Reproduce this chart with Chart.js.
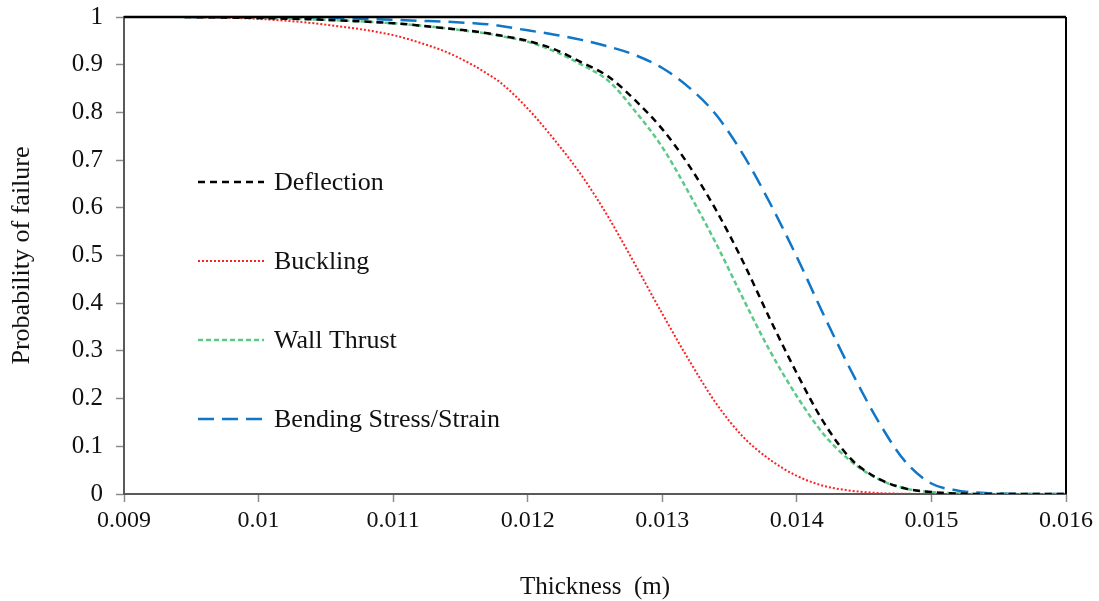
<!DOCTYPE html>
<html>
<head>
<meta charset="utf-8">
<script src="https://cdn.jsdelivr.net/npm/chart.js@4.4.1/dist/chart.umd.min.js"></script>
<style>
  body { margin: 0; background: #fff; }
  #wrap { width: 1099px; height: 601px; }
</style>
</head>
<body>
<div id="wrap"><canvas id="myChart"></canvas></div>
<script>
// thickness grid (m), shared by all curves
const thickness = [0.00945, 0.0100, 0.0105, 0.0110, 0.0112, 0.0114, 0.0116, 0.0117, 0.0118, 0.0120,
  0.0122, 0.0124, 0.0126, 0.0128, 0.0130, 0.0132, 0.0134, 0.0136, 0.0138, 0.0140,
  0.0142, 0.0144, 0.0146, 0.0148, 0.0150, 0.0152, 0.0154, 0.0156, 0.0160];

const deflection = [1.0, 0.998, 0.994, 0.987, 0.982, 0.976, 0.97, 0.966, 0.961, 0.95,
  0.932, 0.905, 0.875, 0.825, 0.765, 0.688, 0.595, 0.487, 0.367, 0.253,
  0.15, 0.074, 0.033, 0.012, 0.004, 0.001, 0, 0, 0];
const buckling = [1.0, 0.996, 0.984, 0.962, 0.946, 0.926, 0.898, 0.881, 0.862, 0.808,
  0.742, 0.668, 0.58, 0.48, 0.378, 0.28, 0.19, 0.12, 0.072, 0.038,
  0.017, 0.007, 0.002, 0.0005, 0, 0, 0, 0, 0];
const wallThrust = [1.0, 0.998, 0.994, 0.987, 0.982, 0.976, 0.969, 0.965, 0.96, 0.948,
  0.928, 0.9, 0.866, 0.802, 0.727, 0.63, 0.525, 0.41, 0.30, 0.205,
  0.125, 0.069, 0.032, 0.012, 0.004, 0.001, 0, 0, 0];
const bending = [1.0, 0.999, 0.998, 0.994, 0.992, 0.99, 0.987, 0.985, 0.981, 0.972,
  0.963, 0.952, 0.938, 0.92, 0.893, 0.852, 0.795, 0.712, 0.61, 0.497,
  0.375, 0.26, 0.155, 0.07, 0.022, 0.007, 0.002, 0.0005, 0];

const seriesNames = ["Deflection", "Buckling", "Wall Thrust", "Bending Stress/Strain"];
const xTickValues = [0.009, 0.010, 0.011, 0.012, 0.013, 0.014, 0.015, 0.016];
const yTickValues = [0, 0.1, 0.2, 0.3, 0.4, 0.5, 0.6, 0.7, 0.8, 0.9, 1];

const toPoints = (ys) => thickness.map((x, i) => ({ x: x, y: ys[i] }));
const serif = "'Liberation Serif', 'Times New Roman', serif";

// legend drawn inside the plot area, like the original
const insideLegend = {
  id: "insideLegend",
  afterDraw(chart) {
    const { ctx, chartArea } = chart;
    ctx.save();
    chart.data.datasets.forEach((ds, i) => {
      const y = chartArea.top + 165 + i * 79;
      const x0 = chartArea.left + 74;
      ctx.beginPath();
      ctx.strokeStyle = ds.borderColor;
      ctx.lineWidth = ds.borderWidth;
      ctx.setLineDash(ds.borderDash || []);
      ctx.moveTo(x0, y);
      ctx.lineTo(x0 + 66, y);
      ctx.stroke();
      ctx.setLineDash([]);
      ctx.fillStyle = "#111";
      ctx.font = "26px " + serif;
      ctx.textBaseline = "middle";
      ctx.fillText(ds.label, chartArea.left + 150, y + 1);
    });
    ctx.restore();
  }
};

// black top and right border of the plot area
const plotBorder = {
  id: "plotBorder",
  afterDatasetsDraw(chart) {
    const { ctx, chartArea } = chart;
    ctx.save();
    ctx.strokeStyle = "#000";
    ctx.lineWidth = 2.5;
    ctx.beginPath();
    ctx.moveTo(chartArea.left, chartArea.top);
    ctx.lineTo(chartArea.right, chartArea.top);
    ctx.stroke();
    ctx.lineWidth = 2;
    ctx.beginPath();
    ctx.moveTo(chartArea.right, chartArea.top);
    ctx.lineTo(chartArea.right, chartArea.bottom);
    ctx.stroke();
    ctx.restore();
  }
};

new Chart(document.getElementById("myChart"), {
  type: "line",
  data: {
    datasets: [
      { label: seriesNames[0], data: toPoints(deflection), borderColor: "#000000", borderWidth: 2.5, borderDash: [7, 5] },
      { label: seriesNames[1], data: toPoints(buckling), borderColor: "#ff2020", borderWidth: 2, borderDash: [2, 2] },
      { label: seriesNames[2], data: toPoints(wallThrust), borderColor: "#5cc987", borderWidth: 2.5, borderDash: [5, 3] },
      { label: seriesNames[3], data: toPoints(bending), borderColor: "#0f76c8", borderWidth: 2.5, borderDash: [16, 8] },
    ],
  },
  options: {
    responsive: true,
    maintainAspectRatio: false,
    animation: false,
    layout: { padding: { top: 17, right: 33, left: 0, bottom: 0 } },
    elements: {
      point: { radius: 0 },
      line: { cubicInterpolationMode: "monotone", fill: false },
    },
    plugins: {
      legend: { display: false },
      tooltip: { enabled: false },
    },
    scales: {
      x: {
        type: "linear",
        min: 0.009,
        max: 0.016,
        afterBuildTicks: (scale) => { scale.ticks = xTickValues.map(v => ({ value: v })); },
        afterFit: (scale) => { scale.height = 107; },
        grid: { drawOnChartArea: false, tickLength: 8, color: "#8c8c8c", tickWidth: 1.5 },
        border: { color: "#595959", width: 2 },
        ticks: {
          color: "#111",
          font: { family: serif, size: 24 },
          padding: 4,
          maxRotation: 0,
          callback: (v) => String(+Number(v).toFixed(3)),
        },
        title: {
          display: true,
          text: "Thickness  (m)",
          color: "#111",
          font: { family: serif, size: 25, lineHeight: 1 },
          padding: { top: 0, bottom: 1 },
        },
      },
      y: {
        min: 0,
        max: 1,
        afterBuildTicks: (scale) => { scale.ticks = yTickValues.map(v => ({ value: v })); },
        afterFit: (scale) => { scale.width = 124; scale.paddingTop = 0; scale.paddingBottom = 0; },
        grid: { drawOnChartArea: false, tickLength: 8, color: "#8c8c8c", tickWidth: 1.5 },
        border: { color: "#595959", width: 2 },
        ticks: {
          color: "#111",
          font: { family: serif, size: 25 },
          padding: 13,
          callback: (v) => String(+Number(v).toFixed(1)),
        },
        title: {
          display: true,
          text: "Probability of failure",
          color: "#111",
          font: { family: serif, size: 26, lineHeight: 1 },
          padding: { top: 9, bottom: 0 },
        },
      },
    },
  },
  plugins: [insideLegend, plotBorder],
});
</script>
</body>
</html>
